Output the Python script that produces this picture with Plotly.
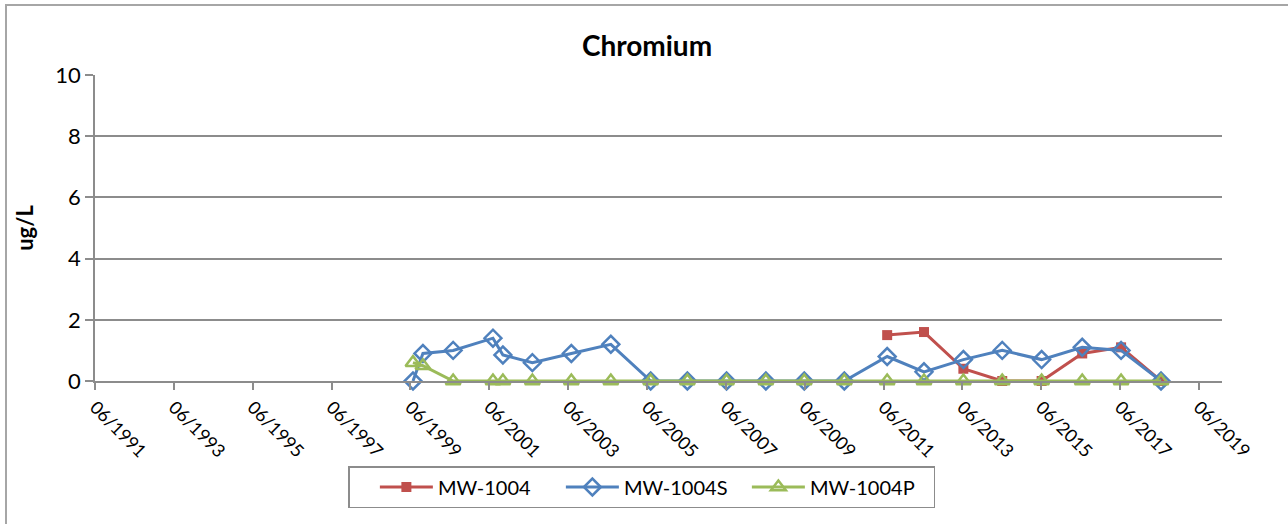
import plotly.graph_objects as go

dates_s = ["1999-06-25", "1999-09-25", "2000-07-01", "2001-07-05", "2001-10-05", "2002-07-05",
           "2003-07-01", "2004-07-01", "2005-07-05", "2006-06-10", "2007-06-08", "2008-06-06",
           "2009-05-28", "2010-06-03", "2011-07-05", "2012-06-10", "2013-06-10", "2014-06-05",
           "2015-06-05", "2016-06-15", "2017-06-10", "2018-06-15"]
mw1004s = [0, 0.9, 1.0, 1.4, 0.85, 0.6, 0.9, 1.2, 0, 0, 0, 0, 0, 0, 0.8, 0.3, 0.7, 1.0, 0.7, 1.1, 1.0, 0]
mw1004p = [0.6, 0.5, 0, 0, 0, 0, 0, 0, 0, 0, 0, 0, 0, 0, 0, 0, 0, 0, 0, 0, 0, 0]

dates_d = ["2011-07-05", "2012-06-10", "2013-06-10", "2014-06-05", "2015-06-05", "2016-06-15",
           "2017-06-10", "2018-06-15"]
mw1004 = [1.5, 1.6, 0.4, 0, 0, 0.9, 1.1, 0]

FONT = "Lato"
GRID = "#8c8c8c"

fig = go.Figure()
fig.add_trace(go.Scatter(x=dates_d, y=mw1004, name="MW-1004", mode="lines+markers",
                         cliponaxis=False,
                         line=dict(color="#C0504D", width=3),
                         marker=dict(symbol="square", size=10, color="#C0504D")))
fig.add_trace(go.Scatter(x=dates_s, y=mw1004s, name="MW-1004S", mode="lines+markers",
                         cliponaxis=False,
                         line=dict(color="#4F81BD", width=3),
                         marker=dict(symbol="diamond-open", size=13, color="#4F81BD",
                                     line=dict(width=2.5, color="#4F81BD"))))
fig.add_trace(go.Scatter(x=dates_s, y=mw1004p, name="MW-1004P", mode="lines+markers",
                         cliponaxis=False,
                         line=dict(color="#9BBB59", width=3),
                         marker=dict(symbol="triangle-up-open", size=13, color="#9BBB59",
                                     line=dict(width=2.5, color="#9BBB59"))))

L, R, T, B = 95, 1222, 75, 381
W, H = 1288, 524
pw, ph = R - L, B - T
def px(x):
    return (x - L) / pw
def py(y):
    return (B - y) / ph

fig.update_layout(
    width=W, height=H,
    margin=dict(l=L, r=W - R, t=T, b=H - B),
    paper_bgcolor="white", plot_bgcolor="white",
    font=dict(family=FONT, color="black"),
    title=dict(text="<b>Chromium</b>", x=647 / W, xanchor="center",
               y=1 - 46 / H, yanchor="middle", font=dict(size=28, family=FONT)),
    showlegend=True,
    legend=dict(orientation="h", x=px(348), xanchor="left", y=py(466), yanchor="top",
                bordercolor="#8c8c8c", borderwidth=1.5, font=dict(size=20, family=FONT),
                title=dict(text="\u00a0\u00a0\u00a0", side="left", font=dict(size=20)),
                itemwidth=53, entrywidth=118, traceorder="normal"),
    xaxis=dict(type="date", range=["1991-06-01", "2020-01-01"], tick0="1991-06-01", dtick="M24",
               tickformat="%m/%Y", tickangle=45, showgrid=False, showline=True, linecolor=GRID,
               linewidth=1.5, ticks="outside", ticklen=7, tickcolor=GRID, tickwidth=1.5,
               tickfont=dict(size=18, family=FONT), zeroline=False),
    yaxis=dict(range=[0, 10], dtick=2, showgrid=True, gridcolor=GRID, gridwidth=1.5,
               showline=True, linecolor=GRID, linewidth=1.5, ticks="outside", ticklen=8,
               tickcolor=GRID, tickwidth=1.5, tickfont=dict(size=22, family=FONT),
               zeroline=False,
               title=dict(text="<b>ug/L</b>", font=dict(size=22, family=FONT), standoff=16)),
    shapes=[dict(type="rect", xref="paper", yref="paper",
                 x0=px(6), x1=px(1300), y0=py(540), y1=py(5),
                 line=dict(color="#a6a6a6", width=2), fillcolor="rgba(0,0,0,0)", layer="below")],
)

fig.write_html("out.html", config={"displayModeBar": False},
               post_script="document.body.style.margin='0';")
